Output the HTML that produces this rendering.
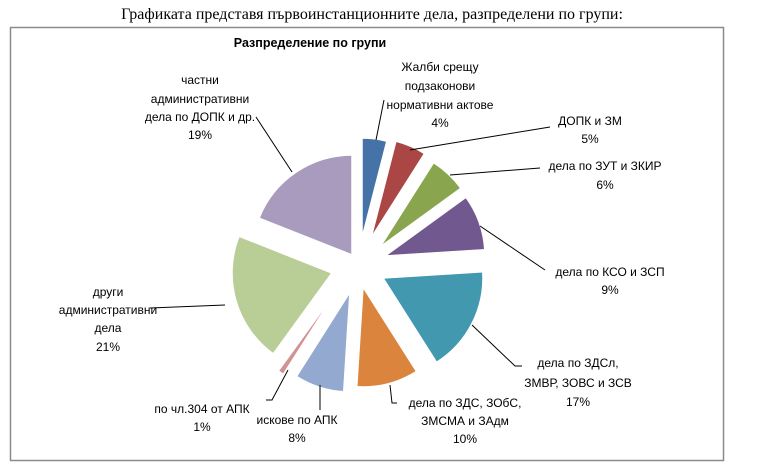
<!DOCTYPE html>
<html><head><meta charset="utf-8"><style>
body{margin:0;background:#fff;width:759px;height:470px;overflow:hidden}
svg text{font-family:"Liberation Sans",sans-serif;font-size:12px;fill:#000}
</style></head><body>
<svg id="s" width="759" height="470" xmlns="http://www.w3.org/2000/svg">
<text x="372" y="19" text-anchor="middle" style="font-family:'Liberation Serif',serif;font-size:16px">Графиката представя първоинстанционните дела, разпределени по групи:</text>
<rect x="10.5" y="27.5" width="713" height="433" fill="#fff" stroke="#8c8c8c" stroke-width="1.5"/>
<text x="310" y="47" text-anchor="middle" style="font-weight:bold;font-size:12.5px">Разпределение по групи</text>
<g id="pie"></g>
<g stroke="#000" stroke-width="1" fill="none">
<polyline points="376,140 384,100"/>
<polyline points="410,150 550,127"/>
<polyline points="450,175 540,168"/>
<polyline points="480,226 545,270"/>
<polyline points="472,325 515,366 522,366"/>
<polyline points="390,385 392,403 397,403"/>
<polyline points="320,385 320,410"/>
<polyline points="288,370 272,400 266,400"/>
<polyline points="225,305 150,308"/>
<polyline points="256,117 292,172"/>
</g>
<g text-anchor="middle">
<text x="440" y="71">Жалби срещу</text><text x="440" y="90">подзаконови</text><text x="440" y="109">нормативни актове</text><text x="440" y="127">4%</text>
<text x="590" y="125">ДОПК и ЗМ</text><text x="590" y="143">5%</text>
<text x="605" y="170">дела по ЗУТ и ЗКИР</text><text x="605" y="189">6%</text>
<text x="610" y="276">дела по КСО и ЗСП</text><text x="610" y="294">9%</text>
<text x="578" y="367">дела по ЗДСл,</text><text x="578" y="387">ЗМВР, ЗОВС и ЗСВ</text><text x="578" y="406">17%</text>
<text x="465" y="407">дела по ЗДС, ЗОбС,</text><text x="465" y="425">ЗМСМА и ЗАдм</text><text x="465" y="443">10%</text>
<text x="297" y="424">искове по АПК</text><text x="297" y="442">8%</text>
<text x="202" y="413">по чл.304 от АПК</text><text x="202" y="431">1%</text>
<text x="108" y="296">други</text><text x="108" y="314">административни</text><text x="108" y="332">дела</text><text x="108" y="351">21%</text>
<text x="200" y="84">частни</text><text x="200" y="103">административни</text><text x="200" y="121">дела по ДОПК и др.</text><text x="200" y="139">19%</text>
</g>
</svg>
<script>
var d=[[4,362,238,"#4573a7"],[5,371,238,"#aa4643"],[6,380,247,"#89a54e"],[9,385,256,"#71588f"],[17,383,278,"#4198af"],[10,363,287,"#db843d"],[8,350,292,"#93a9cf"],[1,337,290,"#d19392"],[21,332,273,"#b9cd96"],[19,352,255,"#a99bbd"]];
var a=0,r=100,h="";
d.forEach(function(s){var a0=a*3.6*Math.PI/180;a+=s[0];var a1=a*3.6*Math.PI/180;
var x0=s[1]+r*Math.sin(a0),y0=s[2]-r*Math.cos(a0),x1=s[1]+r*Math.sin(a1),y1=s[2]-r*Math.cos(a1);
h+='<path d="M'+s[1]+','+s[2]+'L'+x0+','+y0+'A'+r+','+r+' 0 '+(s[0]>50?1:0)+' 1 '+x1+','+y1+'Z" fill="'+s[3]+'" stroke="#fff" stroke-width="1.5"/>';});
document.getElementById("pie").innerHTML=h;
</script>
</body></html>
